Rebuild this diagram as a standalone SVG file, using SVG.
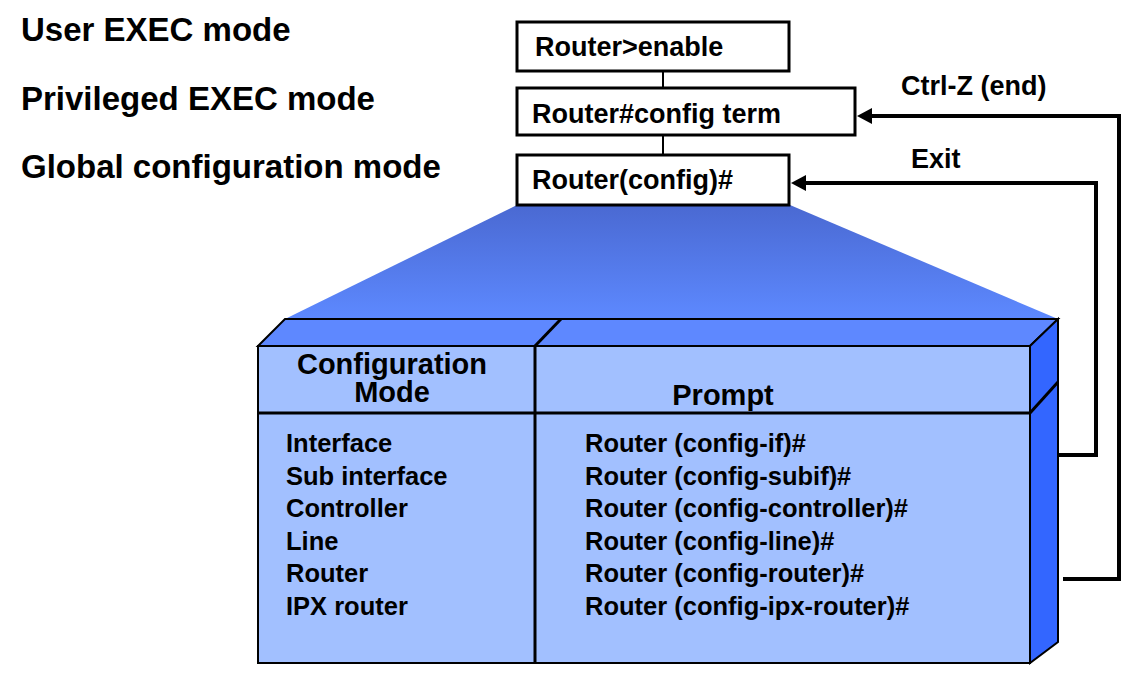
<svg xmlns="http://www.w3.org/2000/svg" width="1144" height="686" viewBox="0 0 1144 686">
<style>
text{font-family:"Liberation Sans",Arial,sans-serif;font-weight:bold;fill:#000}
.lbl{font-size:33px}
.cmd{font-size:27px}
.hdr{font-size:29px}
.row{font-size:25.5px}
.box{fill:#fff;stroke:#000;stroke-width:3}
.edge{stroke:#000;stroke-width:2;fill:none}
.conn{stroke:#000;stroke-width:4;fill:none}
</style>
<defs>
<linearGradient id="fan" x1="0" y1="0" x2="0" y2="1">
<stop offset="0" stop-color="#4a69d2"/>
<stop offset="1" stop-color="#5d89ff"/>
</linearGradient>
<marker id="ah" markerUnits="userSpaceOnUse" markerWidth="15" markerHeight="16" refX="0" refY="8" orient="auto" viewBox="0 0 15 16">
<path d="M0,0 L15,8 L0,16 z" fill="#000"/>
</marker>
</defs>
<rect width="1144" height="686" fill="#fff"/>

<g id="mode-labels">
<text class="lbl" x="21" y="41">User EXEC mode</text>
<text class="lbl" x="21" y="110">Privileged EXEC mode</text>
<text class="lbl" x="21" y="178">Global configuration mode</text>
</g>

<g id="table">
<polygon points="517,205 790,205 1058,319 285,319" fill="url(#fan)"/>
<polygon points="258,346 285,319 1058,319 1030,346" fill="#5e88ff" stroke="#000" stroke-width="2"/>
<polygon points="1030,346 1058,319 1058,642 1030,663" fill="#3366ff" stroke="#000" stroke-width="2"/>
<rect x="258" y="346" width="772" height="317" fill="#a2c0ff" stroke="#000" stroke-width="2"/>
<line x1="535" y1="346" x2="561" y2="319" stroke="#000" stroke-width="3"/>
<line x1="535" y1="346" x2="535" y2="663" stroke="#000" stroke-width="3"/>
<line x1="258" y1="413" x2="1030" y2="413" stroke="#000" stroke-width="3"/>
<line x1="1030" y1="413" x2="1058" y2="382" stroke="#000" stroke-width="3"/>
<text class="hdr" x="392" y="374" text-anchor="middle">Configuration</text>
<text class="hdr" x="392" y="402" text-anchor="middle">Mode</text>
<text class="hdr" x="723" y="405" text-anchor="middle">Prompt</text>
<text class="row" x="286" y="452">Interface</text>
<text class="row" x="286" y="484.5">Sub interface</text>
<text class="row" x="286" y="517">Controller</text>
<text class="row" x="286" y="549.5">Line</text>
<text class="row" x="286" y="582">Router</text>
<text class="row" x="286" y="614.5">IPX router</text>
<text class="row" x="585" y="452">Router (config-if)#</text>
<text class="row" x="585" y="484.5">Router (config-subif)#</text>
<text class="row" x="585" y="517">Router (config-controller)#</text>
<text class="row" x="585" y="549.5">Router (config-line)#</text>
<text class="row" x="585" y="582">Router (config-router)#</text>
<text class="row" x="585" y="614.5">Router (config-ipx-router)#</text>
</g>

<g id="connectors">
<line class="edge" x1="663" y1="71" x2="663" y2="88"/>
<line class="edge" x1="663" y1="135" x2="663" y2="155"/>
<path class="conn" d="M1063,579 H1119 V116 H872" marker-end="url(#ah)"/>
<path class="conn" d="M1058,455 H1096 V183 H806" marker-end="url(#ah)"/>
<text class="cmd" x="901" y="95">Ctrl-Z (end)</text>
<text class="cmd" x="911" y="168">Exit</text>
</g>

<g id="box-enable">
<rect class="box" x="517" y="22" width="272" height="49"/>
<text class="cmd" x="535" y="56">Router&gt;enable</text>
</g>
<g id="box-config-term">
<rect class="box" x="517" y="88" width="338" height="47"/>
<text class="cmd" x="532" y="123">Router#config term</text>
</g>
<g id="box-config">
<rect class="box" x="517" y="155" width="272" height="50"/>
<text class="cmd" x="532" y="189">Router(config)#</text>
</g>
</svg>
